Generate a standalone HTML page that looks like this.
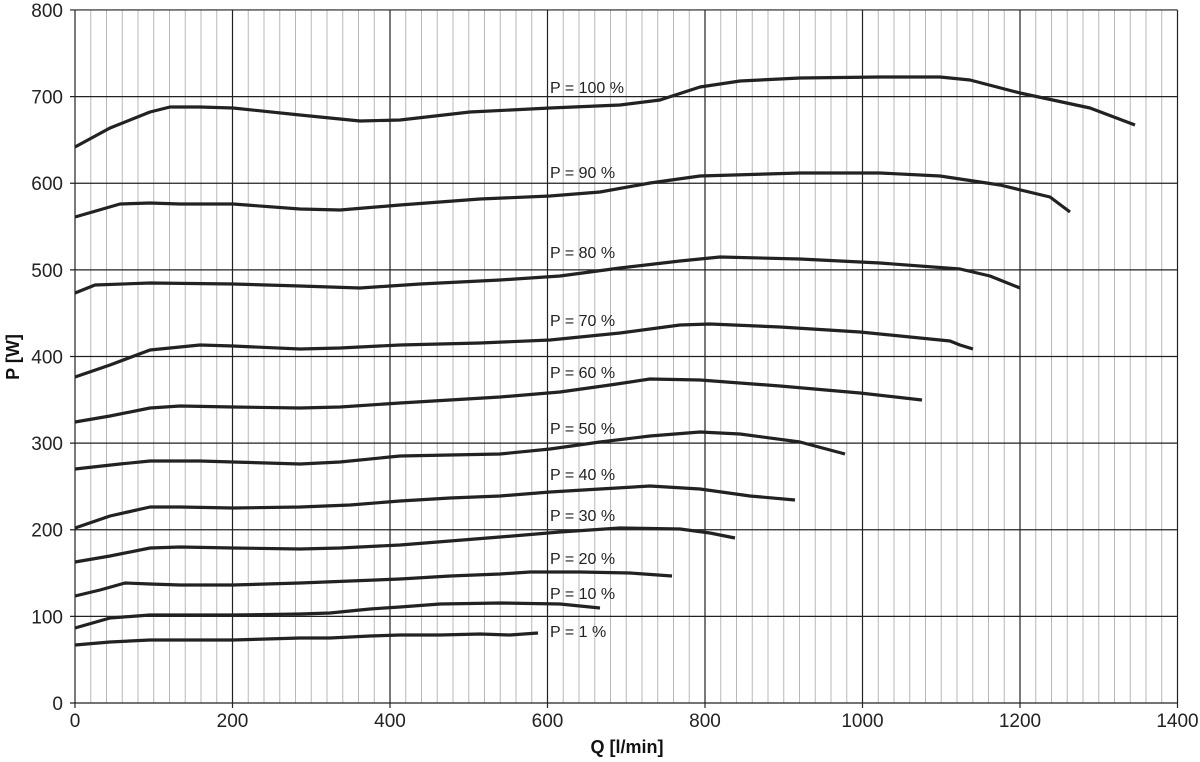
<!DOCTYPE html>
<html><head><meta charset="utf-8"><style>body{margin:0;background:#fff}svg{display:block}</style></head>
<body>
<svg width="1200" height="762" xmlns="http://www.w3.org/2000/svg" font-family="Liberation Sans, Arial, sans-serif">
<rect width="1200" height="762" fill="#fff"/>
<g id="minor" stroke="#b8b8b8" stroke-width="1"></g>
<g id="major" stroke="#222" stroke-width="1.2"></g>
<g id="ticks" font-size="19" fill="#222"></g>
<g fill="none" stroke="#222" stroke-width="3.2" stroke-linejoin="round" stroke-linecap="butt">
<polyline points="75,147 110,128 150,112 170,107 200,107 233,108 300,115 360,121 400,120 470,112 550,108 620,105 660,100 700,87 740,81 800,78 880,77 940,77 970,80 1020,93 1090,108 1135,125"/>
<polyline points="75,217 120,204 150,203 180,204 233,204 300,209 340,210 400,205 480,199 550,196 600,192 650,183 700,176 800,173 880,173 940,176 1000,185 1050,197 1070,212"/>
<polyline points="75,293 95,285 150,283 233,284 300,286 360,288 420,284 500,280 560,276 620,268 680,261 720,257 800,259 880,263 960,269 990,276 1020,288"/>
<polyline points="75,377 110,365 150,350 200,345 233,346 300,349 340,348 400,345 480,343 550,340 620,333 680,325 710,324 780,327 860,332 950,341 960,345 973,349"/>
<polyline points="75,422 110,416 150,408 180,406 233,407 300,408 340,407 400,403 450,400 500,397 560,392 610,385 650,379 700,380 780,386 860,393 922,400"/>
<polyline points="75,469 120,464 150,461 200,461 233,462 300,464 340,462 400,456 450,455 500,454 550,449 600,442 650,436 700,432 740,434 800,442 845,454"/>
<polyline points="75,528 110,516 150,507 180,507 233,508 300,507 350,505 400,501 450,498 500,496 550,492 600,489 650,486 700,489 750,496 795,500"/>
<polyline points="75,562 110,556 150,548 180,547 233,548 300,549 340,548 400,545 450,541 500,537 560,532 620,528 680,529 710,533 735,538"/>
<polyline points="75,596 100,590 125,583 150,584 180,585 233,585 300,583 400,579 450,576 500,574 530,572 580,572 630,573 672,576"/>
<polyline points="75,628 110,618 150,615 200,615 233,615 300,614 330,613 370,609 400,607 440,604 500,603 560,604 600,608"/>
<polyline points="75,645 110,642 150,640 200,640 233,640 300,638 330,638 370,636 400,635 440,635 480,634 510,635 538,633"/>
</g>
<g font-size="16" fill="#222">
<text x="550" y="93">P = 100 %</text>
<text x="550" y="178">P = 90 %</text>
<text x="550" y="258">P = 80 %</text>
<text x="550" y="326">P = 70 %</text>
<text x="550" y="378">P = 60 %</text>
<text x="550" y="434">P = 50 %</text>
<text x="550" y="480">P = 40 %</text>
<text x="550" y="521">P = 30 %</text>
<text x="550" y="564">P = 20 %</text>
<text x="550" y="599">P = 10 %</text>
<text x="550" y="637">P = 1 %</text>
</g>
<text x="627" y="753" font-size="18" font-weight="bold" text-anchor="middle" fill="#111">Q [l/min]</text>
<text transform="translate(19,357) rotate(-90)" font-size="18" font-weight="bold" text-anchor="middle" fill="#111">P [W]</text>
<script>
var ns="http://www.w3.org/2000/svg";
function X(v){return 75+v*0.7875;} function Y(v){return 703-v*0.8663;}
var mi=document.getElementById('minor'),ma=document.getElementById('major'),tk=document.getElementById('ticks');
function ln(g,x1,y1,x2,y2){var l=document.createElementNS(ns,'line');l.setAttribute('x1',x1);l.setAttribute('y1',y1);l.setAttribute('x2',x2);l.setAttribute('y2',y2);g.appendChild(l);}
function tx(x,y,s,a){var t=document.createElementNS(ns,'text');t.setAttribute('x',x);t.setAttribute('y',y);t.setAttribute('text-anchor',a);t.textContent=s;tk.appendChild(t);}
for(var q=20;q<1400;q+=20){if(q%200)ln(mi,X(q),Y(800),X(q),Y(0));}
for(var q=0;q<=1400;q+=200){ln(ma,X(q),Y(800),X(q),Y(0)+5);tx(X(q),727,String(q),'middle');}
for(var p=0;p<=800;p+=100){ln(ma,X(0)-5,Y(p),X(1400),Y(p));tx(63,Y(p)+7,String(p),'end');}
</script>
</svg>
</body></html>
